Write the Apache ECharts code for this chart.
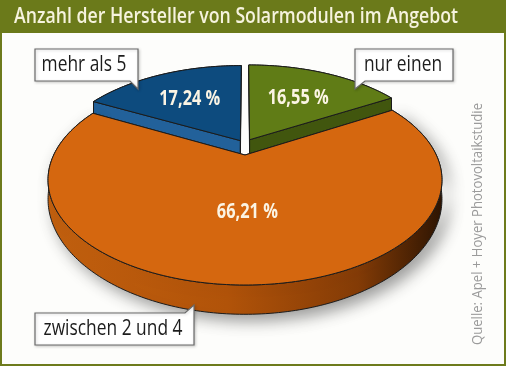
<!DOCTYPE html>
<html>
<head>
<meta charset="utf-8">
<script src="https://cdn.jsdelivr.net/npm/echarts/dist/echarts.min.js"></script>
<style>
html,body{margin:0;padding:0;background:#fdfdfb;}
#chart{width:506px;height:366px;}
</style>
</head>
<body>
<div id="chart"></div>
<script>
// ---- data (clockwise from 12 o'clock) ----
const categories = ['nur einen', 'zwischen 2 und 4', 'mehr als 5'];
const values = [16.55, 66.21, 17.24];
const titleText = 'Anzahl der Hersteller von Solarmodulen im Angebot';
const sourceText = 'Quelle: Apel + Hoyer Photovoltaikstudie';

// ---- styles ----
const topColors = ['#607c16', '#d5670f', '#0d4b7e'];
const radialWallColors = ['#41560e', '#a94f0a', '#22619a'];
const explode = [[0.025, -0.16], [0, 0], [-0.025, -0.15]];
const labelRadius = [0.6, 0.5, 0.6];
const drawOrder = [0, 2, 1];

// text width helper (condensed look via horizontal scaling)
const mctx = document.createElement('canvas').getContext('2d');
function textW(text, font) { mctx.font = font; return mctx.measureText(text).width; }
const FAM = '"Open Sans", "DejaVu Sans", sans-serif';
const titleFont = '600 22px ' + FAM;
const labelFont = '21px ' + FAM;
const pctFont = 'bold 21px ' + FAM;
const srcFont = '15px ' + FAM;
const pctScale = 61 / textW('66,21 %', pctFont);
const labelScale = 139 / textW('zwischen 2 und 4', labelFont);

// projection of the tilted disc (perspective)
const CX = 245, CY = 180, A = 191.3, B = 105, C = -25, E = C / B, T = 17;
function proj(u, v, h) {
  const w = 1 + E * v;
  return [CX + A * u / w, CY + (B * v + C) / w + h * T / (w * w)];
}
function pt(theta, r, d, h) {
  const t = theta * Math.PI / 180;
  return proj(r * Math.sin(t) + d[0], -r * Math.cos(t) + d[1], h);
}
function arc(th1, th2, d, h) {
  const pts = [];
  const n = Math.max(2, Math.ceil(Math.abs(th2 - th1)));
  for (let i = 0; i <= n; i++) pts.push(pt(th1 + (th2 - th1) * i / n, 1, d, h));
  return pts;
}

const total = values.reduce((a, b) => a + b, 0);
const angles = [];
let acc = 0;
values.forEach(v => { const a0 = acc; acc += v / total * 360; angles.push([a0, acc]); });

function fmt(v) { return v.toFixed(2).replace('.', ',') + ' %'; }

const stroke = '#1b1b1b';
const orangeWall = new echarts.graphic.LinearGradient(50, 0, 445, 0, [
  { offset: 0, color: '#c4610f' },
  { offset: 0.45, color: '#b3540a' },
  { offset: 0.78, color: '#853c07' },
  { offset: 1, color: '#2c1403' }
], true);

function renderItem(params, api) {
  const i = api.value(0);
  const [a0, a1] = angles[i];
  const d = explode[i];
  const children = [];
  const topArc = arc(a0, a1, d, 0);
  const botArc = arc(a0, a1, d, 1);
  const wallStyle = { fill: i === 1 ? orangeWall : radialWallColors[i], stroke: stroke, lineWidth: 1 };
  if (i === 1) {
    Object.assign(wallStyle, { shadowBlur: 16, shadowColor: 'rgba(0,0,0,0.4)', shadowOffsetX: 6, shadowOffsetY: 6 });
  }
  children.push({
    type: 'polygon',
    shape: { points: topArc.concat(botArc.slice().reverse()) },
    style: wallStyle
  });
  [a0, a1].forEach(a => {
    children.push({
      type: 'polygon',
      shape: { points: [pt(a, 0, d, 0), pt(a, 1, d, 0), pt(a, 1, d, 1), pt(a, 0, d, 1)] },
      style: { fill: radialWallColors[i], stroke: stroke, lineWidth: 1 }
    });
  });
  children.push({
    type: 'polygon',
    shape: { points: [pt(0, 0, d, 0)].concat(topArc) },
    style: { fill: topColors[i], stroke: stroke, lineWidth: 1 }
  });
  const mid = (a0 + a1) / 2;
  const lp = pt(mid, labelRadius[i], d, 0);
  children.push({
    type: 'text', x: lp[0], y: lp[1] + 1, z2: 10, scaleX: pctScale,
    style: {
      text: fmt(values[i]), fill: '#fbf4e4', align: 'center', verticalAlign: 'middle',
      font: pctFont
    }
  });
  return { type: 'group', children: children };
}

function callout(points, text, tx, ty) {
  return [
    { type: 'polygon', shape: { points: points }, z: 20,
      style: { fill: '#ffffff', stroke: '#6a6a6a', lineWidth: 1.2, shadowBlur: 3, shadowColor: 'rgba(0,0,0,0.2)', shadowOffsetX: 1, shadowOffsetY: 1 } },
    { type: 'text', x: tx, y: ty, z: 21, scaleX: labelScale,
      style: { text: text, fill: '#1c1c1c', align: 'center', verticalAlign: 'middle', font: labelFont } }
  ];
}

const chart = echarts.init(document.getElementById('chart'), null, { renderer: 'canvas' });
chart.setOption({
  backgroundColor: '#fdfdfb',
  animation: false,
  graphic: [
    { type: 'rect', shape: { x: 1, y: 1, width: 504, height: 364 }, z: -10,
      style: { fill: '#fdfdfb', stroke: '#6d7b1c', lineWidth: 2 } },
    { type: 'rect', shape: { x: 0, y: 0, width: 506, height: 33 }, z: -9,
      style: { fill: '#6b7a1a' } },
    { type: 'text', x: 14, y: 17, z: 5, scaleX: 444 / textW(titleText, titleFont),
      style: { text: titleText, fill: '#f6f3de', verticalAlign: 'middle', font: titleFont } },
    { type: 'text', x: 478, y: 224, rotation: Math.PI / 2, z: 5, scaleX: 242 / textW(sourceText, srcFont),
      style: { text: sourceText, fill: '#9b9b9b', align: 'center', verticalAlign: 'middle', font: srcFont } }
  ].concat(
    callout([[35, 49], [138, 49], [138, 89], [130, 81], [35, 81]], categories[2], 84, 65),
    callout([[355, 49], [453, 49], [453, 81], [365, 81], [355, 89], [355, 49]], categories[0], 403, 65),
    callout([[35, 313], [185, 313], [194, 305], [194, 345], [35, 345]], categories[1], 113, 329)
  ),
  series: [{
    type: 'custom',
    coordinateSystem: 'none',
    renderItem: renderItem,
    data: drawOrder.map(i => [i]),
    silent: true
  }]
});
</script>
</body>
</html>
